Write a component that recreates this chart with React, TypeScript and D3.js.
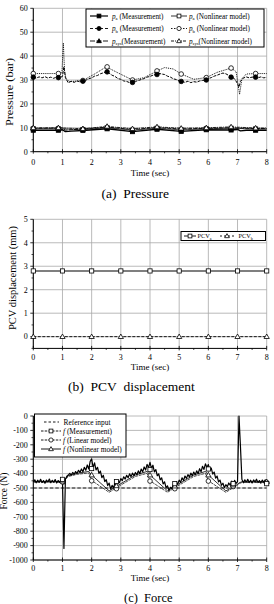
import React from 'react';
import * as d3 from 'd3';

const W = 274;
const H = 604;
const FONT = '"Liberation Serif", "Times New Roman", serif';

// ---------- common ----------
const xTicks = [0, 1, 2, 3, 4, 5, 6, 7, 8];
const xMinor = [0.5, 1.5, 2.5, 3.5, 4.5, 5.5, 6.5, 7.5];

// ---------- (a) Pressure ----------
const presTicks = [0, 10, 20, 30, 40, 50, 60];
const presMinor = [5, 15, 25, 35, 45, 55];
const presT = [
  0, 0.1, 0.2, 0.3, 0.4, 0.5, 0.6, 0.7, 0.8, 0.9,
  1.0, 1.05,
  1.1, 1.2, 1.3, 1.4, 1.5, 1.6, 1.7, 1.8, 1.9,
  2.0, 2.1, 2.2, 2.3, 2.4, 2.5, 2.6, 2.7, 2.8, 2.9,
  3.0, 3.1, 3.2, 3.3, 3.4, 3.5, 3.6, 3.7, 3.8, 3.9,
  4.0, 4.1, 4.2, 4.3, 4.4, 4.5, 4.6, 4.7, 4.8, 4.9,
  5.0, 5.1, 5.2, 5.3, 5.4, 5.5, 5.6, 5.7, 5.8, 5.9,
  6.0, 6.1, 6.2, 6.3, 6.4, 6.5, 6.6, 6.7, 6.8, 6.9,
  7.0, 7.05,
  7.1, 7.2, 7.3, 7.4, 7.5, 7.6, 7.7, 7.8, 7.9, 8.0,
];
const pbMeas = [
  31.2, 30.8, 31.3, 30.9, 31.4, 30.8, 31.2, 30.7, 31.3, 31.0,
  31.5, 35.5,
  31.0, 28.8, 29.5, 29.0, 29.6, 29.2, 29.5, 29.9, 30.5,
  30.9, 31.6, 31.9, 32.6, 33.0, 33.5, 32.8, 32.0, 31.5, 30.6,
  30.3, 29.6, 29.4, 28.9, 29.0, 29.4, 29.8, 30.2, 30.6, 31.2,
  31.5, 32.0, 32.3, 32.8, 32.5, 32.3, 31.6, 31.2, 30.5, 30.2,
  29.6, 29.4, 29.0, 29.5, 28.9, 29.3, 29.1, 29.6, 29.8, 30.0,
  30.6, 31.0, 31.6, 32.0, 32.5, 32.9, 32.6, 31.9, 31.2, 30.5,
  28.5, 27.0,
  29.5, 30.8, 31.3, 30.9, 31.2, 31.2, 30.9, 31.3, 30.9, 31.1,
];
const pbModelT = [0, 0.9, 0.98, 1.03, 1.07, 1.12, 1.25, 1.7, 2.1, 2.5, 2.9, 3.4, 3.8, 4.25, 4.5, 4.8, 5.07, 5.5, 5.93, 6.3, 6.78, 6.95, 7.02, 7.07, 7.15, 7.3, 7.62, 8];
const pbModel = [32.7, 32.7, 33.0, 45.5, 34.0, 30.5, 29.3, 29.8, 32.5, 35.5, 33.0, 30.0, 31.0, 33.8, 35.2, 34.6, 32.5, 30.3, 31.0, 33.2, 35.0, 33.5, 28, 24, 30.5, 32.5, 32.7, 32.7];
const paMeasT = [0, 0.86, 1.0, 1.1, 1.3, 1.7, 2.53, 3.4, 4.24, 5.07, 5.93, 6.78, 7.0, 7.1, 7.3, 7.62, 8];
const paMeas = [9.0, 9.0, 9.2, 8.4, 8.6, 8.9, 9.6, 8.4, 9.4, 8.5, 9.2, 9.1, 9.3, 8.7, 9.0, 9.0, 9.0];
const paModelT = [0, 0.86, 1.7, 2.53, 3.4, 4.24, 5.07, 5.93, 6.78, 7.62, 8];
const paModel = [9.6, 9.6, 9.3, 10.0, 9.0, 9.8, 9.1, 9.6, 9.8, 9.5, 9.5];
const psMeasT = [0, 0.86, 1.0, 1.1, 1.3, 1.7, 2.53, 3.4, 4.24, 5.07, 5.93, 6.78, 7.62, 8];
const psMeas = [9.8, 9.9, 10.0, 9.0, 9.2, 9.5, 10.3, 9.3, 10.1, 9.5, 9.8, 10.0, 9.7, 9.7];
const psModelT = [0, 0.86, 1.7, 2.53, 3.4, 4.24, 5.07, 5.93, 6.78, 7.62, 8];
const psModel = [10.0, 10.0, 9.6, 10.6, 9.6, 10.4, 9.8, 10.0, 10.4, 9.9, 9.9];

const presMarkT = [0, 0.86, 1.7, 2.53, 3.4, 4.24, 5.07, 5.93, 6.78, 7.62];
const pbMeasMark = [31.2, 31.0, 29.5, 33.4, 29.0, 32.3, 29.4, 30.0, 31.2, 31.2];
const pbModelMark = [32.7, 32.7, 29.8, 35.5, 30.0, 33.8, 32.5, 31.0, 35.0, 32.7];
const paMeasMark = [9.0, 9.0, 8.9, 9.6, 8.4, 9.4, 8.5, 9.2, 9.1, 9.0];
const paModelMark = [9.6, 9.6, 9.3, 10.0, 9.0, 9.8, 9.1, 9.6, 9.8, 9.5];
const psMeasMark = [9.8, 9.9, 9.5, 10.3, 9.3, 10.1, 9.5, 9.8, 10.0, 9.7];
const psModelMark = [10.0, 10.0, 9.6, 10.6, 9.6, 10.4, 9.8, 10.0, 10.4, 9.9];

// ---------- (b) PCV displacement ----------
const pcvTicks = [0, 1, 2, 3, 4, 5];
const pcvMinor = [-0.5, 0.5, 1.5, 2.5, 3.5, 4.5];
const pcvT = [0, 1, 2, 3, 4, 5, 6, 7, 8];
const pcvA = [2.8, 2.8, 2.8, 2.8, 2.8, 2.8, 2.8, 2.8, 2.8];
const pcvB = [0, 0, 0, 0, 0, 0, 0, 0, 0];

// ---------- (c) Force ----------
const forceTicks = [0, -100, -200, -300, -400, -500, -600, -700, -800, -900, -1000];
const forceMinor = [-50, -150, -250, -350, -450, -550, -650, -750, -850, -950];
const forceStep = 0.05;
const forceMeas = [
  -455, -443, -464, -446, -460, -440, -462, -448, -467, -445,
  -458, -438, -463, -447, -459, -441, -465, -448, -460, -444,
  -450, -920, -440, -418, -410, -398, -410, -392, -404, -386,
  -398, -377, -392, -368, -387, -356, -377, -340, -368, -315,
  -298, -358, -326, -375, -356, -398, -382, -428, -412, -455,
  -442, -483, -466, -508, -482, -498, -466, -481, -449, -463,
  -435, -449, -422, -438, -412, -429, -402, -421, -397, -415,
  -392, -408, -381, -401, -368, -388, -354, -375, -336, -358,
  -322, -363, -342, -388, -372, -415, -402, -443, -429, -471,
  -457, -498, -485, -517, -495, -505, -475, -488, -459, -473,
  -445, -461, -429, -448, -417, -433, -407, -423, -397, -415,
  -389, -408, -381, -401, -366, -388, -349, -371, -332, -358,
  -337, -378, -362, -403, -389, -431, -417, -458, -445, -481,
  -467, -498, -477, -491, -465, -481, -452, -473, -447, -468,
  -455, 0, -210, -440, -464, -443, -460, -440, -462, -446,
  -465, -444, -458, -439, -462, -448, -466, -445, -460, -443,
  -470,
];
const forceT = forceMeas.map((_, i) => i * forceStep);
const refT = [0, 8];
const refV = [-500, -500];
const linT = [0, 1.0, 1.05, 1.1, 1.2, 1.5, 1.9, 2.0, 2.6, 3.0, 3.5, 3.9, 4.0, 4.6, 5.0, 5.5, 5.9, 6.0, 6.6, 7.0, 7.05, 7.15, 8];
const linV = [-460, -460, -475, -440, -420, -405, -395, -448, -530, -480, -420, -398, -450, -530, -480, -420, -398, -450, -530, -480, -470, -462, -462];
const nonT = [0, 1.0, 1.05, 1.1, 1.2, 1.5, 1.9, 2.0, 2.6, 3.0, 3.5, 3.9, 4.0, 4.6, 5.0, 5.5, 5.9, 6.0, 6.6, 7.0, 7.05, 7.15, 8];
const nonV = [-455, -455, -470, -435, -415, -398, -385, -410, -520, -470, -410, -385, -410, -520, -470, -410, -385, -410, -520, -475, -465, -456, -456];
const forceMarkT = [1.0, 2.0, 2.85, 4.0, 4.85, 6.0, 6.85, 8.0];
const measMark = [-440, -365, -455, -372, -470, -368, -470, -470];
const linMark = [-458, -450, -505, -452, -505, -452, -490, -462];
const nonMark = [-452, -410, -485, -410, -487, -410, -480, -456];

// ---------- scales ----------
const X0 = 33.3;
const X1 = 266.7;
const xs = d3.scaleLinear().domain([0, 8]).range([X0, X1]);
const yA = d3.scaleLinear().domain([0, 60]).range([151.7, 8.3]);
const yB = d3.scaleLinear().domain([-0.5, 5]).range([348.4, 219.3]);
const yC = d3.scaleLinear().domain([-1000, 0]).range([560, 416]);

type Shape = 'square' | 'circle' | 'triangle';

function Marker({ shape, filled, cx, cy, s = 2.1 }: { shape: Shape; filled: boolean; cx: number; cy: number; s?: number }) {
  const fill = filled ? '#000' : '#fff';
  if (shape === 'square')
    return <rect x={cx - s} y={cy - s} width={2 * s} height={2 * s} fill={fill} stroke="#000" strokeWidth={0.8} />;
  if (shape === 'circle') return <circle cx={cx} cy={cy} r={s + 0.2} fill={fill} stroke="#000" strokeWidth={0.8} />;
  const r = s * 1.25;
  return (
    <polygon
      points={`${cx},${cy - r} ${cx + r},${cy + r * 0.7} ${cx - r},${cy + r * 0.7}`}
      fill={fill}
      stroke="#000"
      strokeWidth={0.8}
    />
  );
}

function Series({ t, v, y, dash, width = 0.9, color = '#000' }: { t: number[]; v: number[]; y: d3.ScaleLinear<number, number>; dash?: string; width?: number; color?: string }) {
  const line = d3
    .line<number>()
    .x((_, i) => xs(t[i]))
    .y((d) => y(d));
  return <path d={line(v) || ''} fill="none" stroke={color} strokeWidth={width} strokeDasharray={dash} strokeLinejoin="round" />;
}

function Marks({ t, v, y, shape, filled }: { t: number[]; v: number[]; y: d3.ScaleLinear<number, number>; shape: Shape; filled: boolean }) {
  return (
    <g>
      {v.map((d, i) => (
        <Marker key={i} shape={shape} filled={filled} cx={xs(t[i])} cy={y(d)} />
      ))}
    </g>
  );
}

function Frame({
  y,
  yTicks,
  yMinor,
  tickLabelY,
  titleY,
  yTitle,
  yTitleX,
  yTitleCY,
  yTitleLen,
}: {
  y: d3.ScaleLinear<number, number>;
  yTicks: number[];
  yMinor: number[];
  tickLabelY: number;
  titleY: number;
  yTitle: string;
  yTitleX: number;
  yTitleCY: number;
  yTitleLen: number;
}) {
  const [d0, d1] = y.domain();
  const yb = y(d0);
  const yt = y(d1);
  return (
    <g fontFamily={FONT}>
      {xTicks.map((t) => (
        <line key={'gx' + t} x1={xs(t)} x2={xs(t)} y1={yb} y2={yt} stroke="#a8a8a8" strokeWidth={0.8} />
      ))}
      {yTicks.map((t) => (
        <line key={'gy' + t} x1={X0} x2={X1} y1={y(t)} y2={y(t)} stroke="#a8a8a8" strokeWidth={0.8} />
      ))}
      <line x1={X0} x2={X0} y1={yb} y2={yt} stroke="#000" strokeWidth={1} />
      <line x1={X0} x2={X1} y1={yb} y2={yb} stroke="#000" strokeWidth={1} />
      {yTicks.map((t) => (
        <line key={'ty' + t} x1={X0 - 3} x2={X0} y1={y(t)} y2={y(t)} stroke="#000" strokeWidth={0.8} />
      ))}
      {yMinor.map((t) => (
        <line key={'my' + t} x1={X0 - 1.8} x2={X0} y1={y(t)} y2={y(t)} stroke="#000" strokeWidth={0.7} />
      ))}
      {xTicks.map((t) => (
        <line key={'tx' + t} x1={xs(t)} x2={xs(t)} y1={yb - 2.5} y2={yb + 2} stroke="#000" strokeWidth={0.8} />
      ))}
      {xMinor.map((t) => (
        <line key={'mx' + t} x1={xs(t)} x2={xs(t)} y1={yb} y2={yb + 1.6} stroke="#000" strokeWidth={0.7} />
      ))}
      {yTicks.map((t) => (
        <text key={'ly' + t} x={X0 - 5.5} y={y(t)} dy="0.35em" fontSize={8} textAnchor="end">
          {String(t)}
        </text>
      ))}
      {xTicks.map((t) => (
        <text key={'lx' + t} x={xs(t)} y={tickLabelY} fontSize={8} textAnchor="middle">
          {String(t)}
        </text>
      ))}
      <text x={(X0 + X1) / 2} y={titleY} fontSize={9} textAnchor="middle">
        Time (sec)
      </text>
      <text
        transform={`translate(${yTitleX},${yTitleCY}) rotate(-90)`}
        fontSize={9.5}
        textAnchor="middle"
        textLength={yTitleLen}
        lengthAdjust="spacingAndGlyphs"
      >
        {yTitle}
      </text>
    </g>
  );
}

function LegendSample({ x1, x2, y, dash, width = 0.9, shape, filled }: { x1: number; x2: number; y: number; dash?: string; width?: number; shape?: Shape; filled?: boolean }) {
  return (
    <g>
      <line x1={x1} x2={x2} y1={y} y2={y} stroke="#000" strokeWidth={width} strokeDasharray={dash} />
      {shape && <Marker shape={shape} filled={!!filled} cx={(x1 + x2) / 2} cy={y} s={1.9} />}
    </g>
  );
}

function SubLabel({ x, y, main, sub, rest, size = 7.2 }: { x: number; y: number; main: string; sub: string; rest: string; size?: number }) {
  return (
    <text x={x} y={y} fontSize={size} fontFamily={FONT}>
      <tspan fontStyle="italic">{main}</tspan>
      <tspan dy={1.6} fontSize={size * 0.65}>
        {sub}
      </tspan>
      <tspan dy={-1.6}>{rest}</tspan>
    </text>
  );
}

export default function App() {
  const rowsA = [16, 28.5, 41];
  const rowsC = [422, 431, 440, 449];
  return (
    <svg width={W} height={H} viewBox={`0 0 ${W} ${H}`} style={{ position: 'absolute', left: 0, top: 0, background: '#fff' }}>
      <rect x={0} y={0} width={W} height={H} fill="#fff" />

      {/* ===== (a) Pressure ===== */}
      <Frame y={yA} yTicks={presTicks} yMinor={presMinor} tickLabelY={165} titleY={176} yTitle="Pressure (bar)" yTitleX={12.5} yTitleCY={92} yTitleLen={68} />
      <Series t={pbModelT} v={pbModel} y={yA} dash="1,0.9" width={0.9} />
      <Series t={presT} v={pbMeas} y={yA} dash="3,1.2" width={1} />
      <Series t={paModelT} v={paModel} y={yA} width={0.7} />
      <Series t={psMeasT} v={psMeas} y={yA} dash="4,1.2" width={0.9} />
      <Series t={psModelT} v={psModel} y={yA} dash="3,1,1,1" width={0.8} />
      <Series t={paMeasT} v={paMeas} y={yA} width={1.4} />
      <Marks t={presMarkT} v={pbModelMark} y={yA} shape="circle" filled={false} />
      <Marks t={presMarkT} v={pbMeasMark} y={yA} shape="circle" filled={true} />
      <Marks t={presMarkT} v={paModelMark} y={yA} shape="square" filled={false} />
      <Marks t={presMarkT} v={psMeasMark} y={yA} shape="triangle" filled={true} />
      <Marks t={presMarkT} v={paMeasMark} y={yA} shape="square" filled={true} />
      <Marks t={presMarkT} v={psModelMark} y={yA} shape="triangle" filled={false} />

      <rect x={86} y={9} width={178} height={38} fill="#fff" stroke="#000" strokeWidth={1} />
      <LegendSample x1={90} x2={108} y={rowsA[0]} width={1.2} shape="square" filled />
      <LegendSample x1={90} x2={108} y={rowsA[1]} dash="3,2" shape="circle" filled />
      <LegendSample x1={90} x2={108} y={rowsA[2]} dash="5,1.5" shape="triangle" filled />
      <LegendSample x1={171} x2={187} y={rowsA[0]} width={0.8} shape="square" filled={false} />
      <LegendSample x1={171} x2={187} y={rowsA[1]} dash="1.5,1.5" shape="circle" filled={false} />
      <LegendSample x1={171} x2={187} y={rowsA[2]} dash="3,1,1,1" shape="triangle" filled={false} />
      <SubLabel x={112} y={rowsA[0] + 2.5} main="p" sub="a" rest=" (Measurement)" />
      <SubLabel x={112} y={rowsA[1] + 2.5} main="p" sub="b" rest=" (Measurement)" />
      <SubLabel x={112} y={rowsA[2] + 2.5} main="p" sub="sys" rest="(Measurement)" />
      <SubLabel x={189} y={rowsA[0] + 2.5} main="p" sub="a" rest=" (Nonlinear model)" />
      <SubLabel x={189} y={rowsA[1] + 2.5} main="p" sub="b" rest=" (Nonlinear model)" />
      <SubLabel x={189} y={rowsA[2] + 2.5} main="p" sub="sys" rest="(Nonlinear model)" />

      <text x={101.5} y={198} fontSize={13.5} fontFamily={FONT}>
        {'(a)\u00a0\u00a0Pressure'}
      </text>

      {/* ===== (b) PCV displacement ===== */}
      <Frame y={yB} yTicks={pcvTicks} yMinor={pcvMinor} tickLabelY={360} titleY={369.5} yTitle="PCV displacement (mm)" yTitleX={15.5} yTitleCY={278} yTitleLen={104} />
      <Series t={pcvT} v={pcvB} y={yB} dash="3,1.5" width={0.9} />
      <Series t={pcvT} v={pcvA} y={yB} width={1.1} />
      <Marks t={pcvT} v={pcvA} y={yB} shape="square" filled={false} />
      <Marks t={pcvT} v={pcvB} y={yB} shape="triangle" filled={false} />

      <rect x={181} y={231.5} width={84.5} height={9} fill="#fff" stroke="#000" strokeWidth={1} />
      <LegendSample x1={184} x2={196} y={236} width={0.9} shape="square" filled={false} />
      <LegendSample x1={220} x2={234} y={236} dash="2,2" shape="triangle" filled={false} />
      <text x={197.5} y={238.3} fontSize={6.3} fontFamily={FONT}>
        PCV<tspan dy={1.4} fontSize={4}>a</tspan>
      </text>
      <text x={238.5} y={238.3} fontSize={6.3} fontFamily={FONT}>
        PCV<tspan dy={1.4} fontSize={4}>b</tspan>
      </text>

      <text x={68} y={390.5} fontSize={13.5} fontFamily={FONT}>
        {'(b)\u00a0\u00a0PCV\u00a0\u00a0displacement'}
      </text>

      {/* ===== (c) Force ===== */}
      <Frame y={yC} yTicks={forceTicks} yMinor={forceMinor} tickLabelY={571} titleY={581} yTitle="Force (N)" yTitleX={6.5} yTitleCY={491} yTitleLen={37} />
      <Series t={refT} v={refV} y={yC} dash="3.5,2" width={0.9} />
      <Series t={linT} v={linV} y={yC} dash="3,0.8" width={0.8} color="#222" />
      <Series t={nonT} v={nonV} y={yC} width={0.8} />
      <Series t={forceT} v={forceMeas} y={yC} width={1.2} />
      <Marks t={forceMarkT} v={linMark} y={yC} shape="circle" filled={false} />
      <Marks t={forceMarkT} v={nonMark} y={yC} shape="triangle" filled={false} />
      <Marks t={forceMarkT} v={measMark} y={yC} shape="square" filled={false} />

      <rect x={34.5} y={414} width={91.5} height={43} fill="#fff" stroke="#000" strokeWidth={1} />
      <LegendSample x1={44} x2={59} y={rowsC[0]} dash="2.5,2" />
      <LegendSample x1={41} x2={61} y={rowsC[1]} dash="2.5,1.2" shape="square" filled={false} />
      <LegendSample x1={41} x2={61} y={rowsC[2]} dash="2.5,1.2" shape="circle" filled={false} />
      <LegendSample x1={41} x2={61} y={rowsC[3]} width={0.9} shape="triangle" filled={false} />
      <text x={63.5} y={rowsC[0] + 2.5} fontSize={7.4} fontFamily={FONT}>
        Reference input
      </text>
      <text x={63} y={rowsC[1] + 2.5} fontSize={7.4} fontFamily={FONT}>
        <tspan fontStyle="italic">f</tspan> (Measurement)
      </text>
      <text x={63} y={rowsC[2] + 2.5} fontSize={7.4} fontFamily={FONT}>
        <tspan fontStyle="italic">f</tspan> (Linear model)
      </text>
      <text x={63} y={rowsC[3] + 2.5} fontSize={7.4} fontFamily={FONT}>
        <tspan fontStyle="italic">f</tspan> (Nonlinear model)
      </text>

      <text x={124} y={601.5} fontSize={12.5} fontFamily={FONT}>
        {'(c)\u00a0\u00a0Force'}
      </text>
    </svg>
  );
}
